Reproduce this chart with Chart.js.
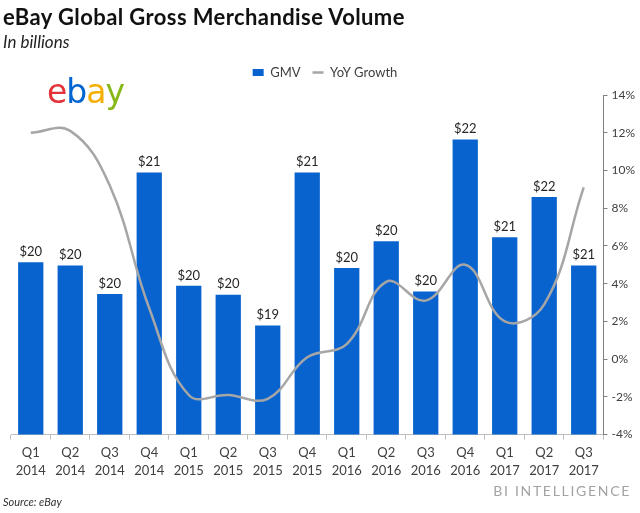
<!DOCTYPE html>
<html>
<head>
<meta charset="utf-8">
<script src="https://cdn.jsdelivr.net/npm/chart.js@4/dist/chart.umd.min.js"></script>
<style>
  html, body { margin: 0; padding: 0; background: #fff; }
  #wrap { position: relative; width: 640px; height: 513px; overflow: hidden; font-family: Lato, "Open Sans", sans-serif; }
  #c { position: absolute; left: 0; top: 0; }
  .title { position: absolute; left: 3px; top: 3px; font-size: 22px; letter-spacing: 0.4px; font-weight: 700; color: #111; white-space: nowrap; }
  .sub { position: absolute; left: 3px; top: 31px; font-size: 17px; font-style: italic; color: #222; white-space: nowrap; }
  .logo { position: absolute; left: 47px; top: 72px; font-family: "DejaVu Sans", sans-serif; font-size: 33px; letter-spacing: -1px; white-space: nowrap; }
  .source { position: absolute; left: 3px; top: 495px; font-size: 11px; font-style: italic; color: #333; }
  .bi { position: absolute; right: 9px; top: 482px; font-size: 14px; letter-spacing: 1.7px; color: #a3a3a3; white-space: nowrap; }
</style>
</head>
<body>
<div id="wrap">
  <canvas id="c" width="640" height="513"></canvas>
  <div class="title">eBay Global Gross Merchandise Volume</div>
  <div class="sub">In billions</div>
  <div class="logo"><span style="color:#E53238">e</span><span style="color:#0064D2">b</span><span style="color:#F5AF02">a</span><span style="color:#86B817">y</span></div>
  <div class="source">Source: eBay</div>
  <div class="bi">BI INTELLIGENCE</div>
</div>
<script>
const quarters = ['Q1','Q2','Q3','Q4','Q1','Q2','Q3','Q4','Q1','Q2','Q3','Q4','Q1','Q2','Q3'];
const years = ['2014','2014','2014','2014','2015','2015','2015','2015','2016','2016','2016','2016','2017','2017','2017'];
const gmv = [20.13, 20.09, 19.74, 21.24, 19.84, 19.73, 19.35, 21.24, 20.06, 20.39, 19.77, 21.65, 20.44, 20.94, 20.09];
const gmvLabels = ['$20','$20','$20','$21','$20','$20','$19','$21','$20','$20','$20','$22','$21','$22','$21'];
const yoyGrowth = [12.0, 12.1, 9.2, 2.7, -1.9, -1.9, -2.1, 0.1, 0.8, 4.1, 3.1, 5.0, 2.0, 2.9, 9.1];
const growthTicks = [-4, -2, 0, 2, 4, 6, 8, 10, 12, 14];

const categories = quarters.map((q, i) => [q, years[i]]);

const barLabelPlugin = {
  id: 'barLabels',
  afterDatasetsDraw(chart) {
    const meta = chart.getDatasetMeta(0);
    const ctx = chart.ctx;
    ctx.save();
    ctx.font = '13px Lato, "Open Sans", sans-serif';
    ctx.fillStyle = '#262626';
    ctx.textAlign = 'center';
    ctx.textBaseline = 'bottom';
    meta.data.forEach((bar, i) => {
      ctx.fillText(gmvLabels[i], bar.x, bar.y - 4);
    });
    ctx.restore();
  }
};

new Chart(document.getElementById('c'), {
  data: {
    labels: categories,
    datasets: [
      {
        type: 'bar',
        label: 'GMV',
        data: gmv,
        yAxisID: 'y',
        backgroundColor: '#0863CF',
        borderWidth: 0,
        categoryPercentage: 1.0,
        barPercentage: 0.64,
        pointStyle: 'rect',
        order: 1
      },
      {
        type: 'line',
        label: 'YoY Growth',
        data: yoyGrowth,
        yAxisID: 'y1',
        borderColor: '#A6A6A6',
        backgroundColor: '#A6A6A6',
        borderWidth: 2.5,
        pointRadius: 0,
        pointStyle: 'line',
        tension: 0.4,
        fill: false,
        order: 0
      }
    ]
  },
  options: {
    responsive: false,
    animation: false,
    layout: { padding: { left: 11, right: 1, top: 54, bottom: 29 } },
    plugins: {
      tooltip: { enabled: false },
      title: {
        display: true,
        text: '',
        weight: 2000,
        font: { size: 1, lineHeight: 1 },
        padding: { top: 0, bottom: 5 }
      },
      legend: {
        position: 'top',
        align: 'center',
        weight: 3000,
        labels: {
          usePointStyle: true,
          pointStyleWidth: 11,
          boxHeight: 7,
          color: '#404040',
          font: { family: 'Lato, "Open Sans", sans-serif', size: 13 },
          padding: 12,
          sort: (a, b) => a.datasetIndex - b.datasetIndex
        }
      }
    },
    scales: {
      x: {
        offset: true,
        grid: { display: true, drawOnChartArea: false, offset: true, tickLength: 5, color: '#BFBFBF' },
        border: { display: true, color: '#BFBFBF' },
        ticks: {
          color: '#404040',
          font: { family: 'Lato, "Open Sans", sans-serif', size: 13, lineHeight: 1.4 },
          padding: 4,
          maxRotation: 0,
          autoSkip: false
        }
      },
      y: {
        display: false,
        position: 'left',
        min: 18,
        max: 22.2
      },
      y1: {
        position: 'right',
        min: -4,
        max: 14,
        afterBuildTicks: (axis) => { axis.ticks = growthTicks.map(v => ({ value: v })); },
        grid: { drawOnChartArea: false, tickLength: 4, color: '#808080' },
        border: { display: true, color: '#808080' },
        ticks: {
          color: '#404040',
          font: { family: 'Lato, "Open Sans", sans-serif', size: 12 },
          padding: 4,
          callback: (v) => v + '%'
        }
      }
    }
  },
  plugins: [barLabelPlugin]
});
</script>
</body>
</html>
